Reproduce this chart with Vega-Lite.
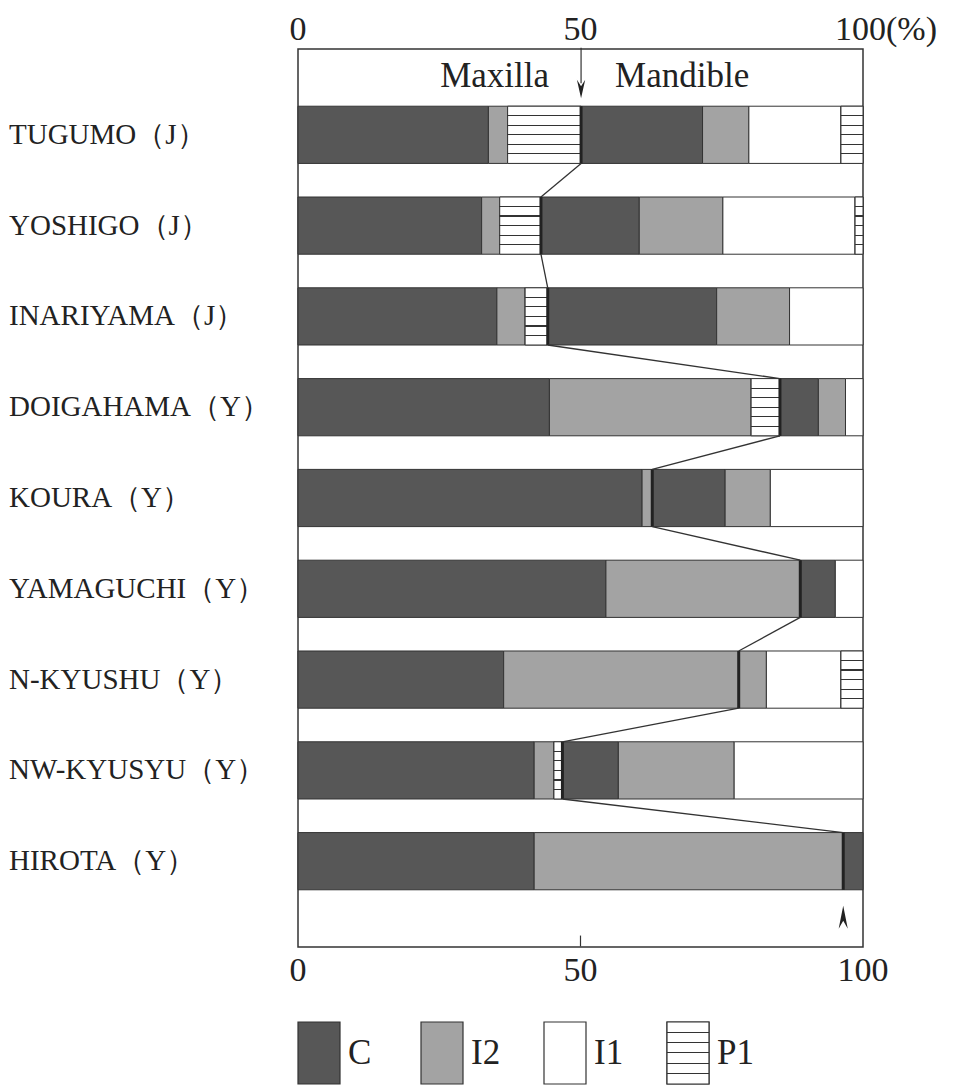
{
  "$schema": "https://vega.github.io/schema/vega-lite/v6.json",
  "padding": {"left": 8, "top": 12, "right": 5, "bottom": 0},
  "background": "white",
  "spacing": 32,
  "config": {
    "view": {"stroke": "#333", "strokeWidth": 1.5},
    "font": "Liberation Serif"
  },
  "vconcat": [
    {
      "width": 565,
      "height": 898,
      "data": {
        "values": [
          {"site": "TUGUMO（J）", "idx": 1, "jaw": "Maxilla", "tooth": "C", "seg": 1, "pct": 33.7},
          {"site": "TUGUMO（J）", "idx": 1, "jaw": "Maxilla", "tooth": "I2", "seg": 2, "pct": 3.4},
          {"site": "TUGUMO（J）", "idx": 1, "jaw": "Maxilla", "tooth": "P1", "seg": 4, "pct": 13.0},
          {"site": "TUGUMO（J）", "idx": 1, "jaw": "Mandible", "tooth": "C", "seg": 5, "pct": 21.5},
          {"site": "TUGUMO（J）", "idx": 1, "jaw": "Mandible", "tooth": "I2", "seg": 6, "pct": 8.2},
          {"site": "TUGUMO（J）", "idx": 1, "jaw": "Mandible", "tooth": "I1", "seg": 7, "pct": 16.3},
          {"site": "TUGUMO（J）", "idx": 1, "jaw": "Mandible", "tooth": "P1", "seg": 8, "pct": 3.9},
          {"site": "YOSHIGO（J）", "idx": 2, "jaw": "Maxilla", "tooth": "C", "seg": 1, "pct": 32.5},
          {"site": "YOSHIGO（J）", "idx": 2, "jaw": "Maxilla", "tooth": "I2", "seg": 2, "pct": 3.2},
          {"site": "YOSHIGO（J）", "idx": 2, "jaw": "Maxilla", "tooth": "P1", "seg": 4, "pct": 7.3},
          {"site": "YOSHIGO（J）", "idx": 2, "jaw": "Mandible", "tooth": "C", "seg": 5, "pct": 17.4},
          {"site": "YOSHIGO（J）", "idx": 2, "jaw": "Mandible", "tooth": "I2", "seg": 6, "pct": 14.8},
          {"site": "YOSHIGO（J）", "idx": 2, "jaw": "Mandible", "tooth": "I1", "seg": 7, "pct": 23.4},
          {"site": "YOSHIGO（J）", "idx": 2, "jaw": "Mandible", "tooth": "P1", "seg": 8, "pct": 1.4},
          {"site": "INARIYAMA（J）", "idx": 3, "jaw": "Maxilla", "tooth": "C", "seg": 1, "pct": 35.2},
          {"site": "INARIYAMA（J）", "idx": 3, "jaw": "Maxilla", "tooth": "I2", "seg": 2, "pct": 5.0},
          {"site": "INARIYAMA（J）", "idx": 3, "jaw": "Maxilla", "tooth": "P1", "seg": 4, "pct": 4.0},
          {"site": "INARIYAMA（J）", "idx": 3, "jaw": "Mandible", "tooth": "C", "seg": 5, "pct": 29.9},
          {"site": "INARIYAMA（J）", "idx": 3, "jaw": "Mandible", "tooth": "I2", "seg": 6, "pct": 12.9},
          {"site": "INARIYAMA（J）", "idx": 3, "jaw": "Mandible", "tooth": "I1", "seg": 7, "pct": 13.0},
          {"site": "DOIGAHAMA（Y）", "idx": 4, "jaw": "Maxilla", "tooth": "C", "seg": 1, "pct": 44.5},
          {"site": "DOIGAHAMA（Y）", "idx": 4, "jaw": "Maxilla", "tooth": "I2", "seg": 2, "pct": 35.7},
          {"site": "DOIGAHAMA（Y）", "idx": 4, "jaw": "Maxilla", "tooth": "P1", "seg": 4, "pct": 5.1},
          {"site": "DOIGAHAMA（Y）", "idx": 4, "jaw": "Mandible", "tooth": "C", "seg": 5, "pct": 6.8},
          {"site": "DOIGAHAMA（Y）", "idx": 4, "jaw": "Mandible", "tooth": "I2", "seg": 6, "pct": 4.8},
          {"site": "DOIGAHAMA（Y）", "idx": 4, "jaw": "Mandible", "tooth": "I1", "seg": 7, "pct": 3.1},
          {"site": "KOURA（Y）", "idx": 5, "jaw": "Maxilla", "tooth": "C", "seg": 1, "pct": 60.9},
          {"site": "KOURA（Y）", "idx": 5, "jaw": "Maxilla", "tooth": "I2", "seg": 2, "pct": 1.8},
          {"site": "KOURA（Y）", "idx": 5, "jaw": "Mandible", "tooth": "C", "seg": 5, "pct": 12.9},
          {"site": "KOURA（Y）", "idx": 5, "jaw": "Mandible", "tooth": "I2", "seg": 6, "pct": 8.0},
          {"site": "KOURA（Y）", "idx": 5, "jaw": "Mandible", "tooth": "I1", "seg": 7, "pct": 16.4},
          {"site": "YAMAGUCHI（Y）", "idx": 6, "jaw": "Maxilla", "tooth": "C", "seg": 1, "pct": 54.5},
          {"site": "YAMAGUCHI（Y）", "idx": 6, "jaw": "Maxilla", "tooth": "I2", "seg": 2, "pct": 34.4},
          {"site": "YAMAGUCHI（Y）", "idx": 6, "jaw": "Mandible", "tooth": "C", "seg": 5, "pct": 6.2},
          {"site": "YAMAGUCHI（Y）", "idx": 6, "jaw": "Mandible", "tooth": "I1", "seg": 7, "pct": 4.9},
          {"site": "N-KYUSHU（Y）", "idx": 7, "jaw": "Maxilla", "tooth": "C", "seg": 1, "pct": 36.4},
          {"site": "N-KYUSHU（Y）", "idx": 7, "jaw": "Maxilla", "tooth": "I2", "seg": 2, "pct": 41.6},
          {"site": "N-KYUSHU（Y）", "idx": 7, "jaw": "Mandible", "tooth": "I2", "seg": 6, "pct": 4.9},
          {"site": "N-KYUSHU（Y）", "idx": 7, "jaw": "Mandible", "tooth": "I1", "seg": 7, "pct": 13.2},
          {"site": "N-KYUSHU（Y）", "idx": 7, "jaw": "Mandible", "tooth": "P1", "seg": 8, "pct": 3.9},
          {"site": "NW-KYUSYU（Y）", "idx": 8, "jaw": "Maxilla", "tooth": "C", "seg": 1, "pct": 41.8},
          {"site": "NW-KYUSYU（Y）", "idx": 8, "jaw": "Maxilla", "tooth": "I2", "seg": 2, "pct": 3.5},
          {"site": "NW-KYUSYU（Y）", "idx": 8, "jaw": "Maxilla", "tooth": "P1", "seg": 4, "pct": 1.5},
          {"site": "NW-KYUSYU（Y）", "idx": 8, "jaw": "Mandible", "tooth": "C", "seg": 5, "pct": 9.9},
          {"site": "NW-KYUSYU（Y）", "idx": 8, "jaw": "Mandible", "tooth": "I2", "seg": 6, "pct": 20.5},
          {"site": "NW-KYUSYU（Y）", "idx": 8, "jaw": "Mandible", "tooth": "I1", "seg": 7, "pct": 22.8},
          {"site": "HIROTA（Y）", "idx": 9, "jaw": "Maxilla", "tooth": "C", "seg": 1, "pct": 41.8},
          {"site": "HIROTA（Y）", "idx": 9, "jaw": "Maxilla", "tooth": "I2", "seg": 2, "pct": 54.7},
          {"site": "HIROTA（Y）", "idx": 9, "jaw": "Mandible", "tooth": "C", "seg": 5, "pct": 3.5}
        ]
      },
      "transform": [
        {"stack": "pct", "groupby": ["site"], "sort": [{"field": "seg", "order": "ascending"}], "as": ["x0", "x1"]}
      ],
      "layer": [
        {
          "mark": {"type": "bar", "stroke": "#333", "strokeWidth": 1},
          "encoding": {
            "y": {
              "field": "site", "type": "nominal",
              "scale": {"domain": ["TUGUMO（J）", "YOSHIGO（J）", "INARIYAMA（J）", "DOIGAHAMA（Y）", "KOURA（Y）", "YAMAGUCHI（Y）", "N-KYUSHU（Y）", "NW-KYUSYU（Y）", "HIROTA（Y）"], "paddingInner": 0.37, "paddingOuter": 0.63},
              "axis": null
            },
            "x": {"field": "x0", "type": "quantitative", "scale": {"domain": [0, 100], "nice": false}, "axis": null},
            "x2": {"field": "x1"},
            "fill": {
              "field": "tooth", "type": "nominal",
              "scale": {"domain": ["C", "I2", "I1", "P1"], "range": ["#575757", "#a3a3a3", "#ffffff", "#ffffff"]},
              "legend": null
            }
          }
        },
        {
          "transform": [{"filter": "datum.tooth == 'P1'"}],
          "mark": {
            "type": "bar", "stroke": "#333", "strokeWidth": 1,
            "fill": {"gradient": "linear", "x1": 0, "y1": 0, "x2": 0, "y2": 1, "stops": [
              {"offset": 0, "color": "#ffffff"},
              {"offset": 0.157, "color": "#ffffff"}, {"offset": 0.157, "color": "#333333"}, {"offset": 0.177, "color": "#333333"}, {"offset": 0.177, "color": "#ffffff"},
              {"offset": 0.323, "color": "#ffffff"}, {"offset": 0.323, "color": "#333333"}, {"offset": 0.343, "color": "#333333"}, {"offset": 0.343, "color": "#ffffff"},
              {"offset": 0.49, "color": "#ffffff"}, {"offset": 0.49, "color": "#333333"}, {"offset": 0.51, "color": "#333333"}, {"offset": 0.51, "color": "#ffffff"},
              {"offset": 0.657, "color": "#ffffff"}, {"offset": 0.657, "color": "#333333"}, {"offset": 0.677, "color": "#333333"}, {"offset": 0.677, "color": "#ffffff"},
              {"offset": 0.823, "color": "#ffffff"}, {"offset": 0.823, "color": "#333333"}, {"offset": 0.843, "color": "#333333"}, {"offset": 0.843, "color": "#ffffff"},
              {"offset": 1, "color": "#ffffff"}
            ]}
          },
          "encoding": {
            "y": {"field": "site", "type": "nominal", "axis": null},
            "x": {"field": "x0", "type": "quantitative", "axis": null},
            "x2": {"field": "x1"}
          }
        },
        {
          "transform": [
            {"filter": "datum.jaw == 'Maxilla'"},
            {"aggregate": [{"op": "max", "field": "x1", "as": "b"}], "groupby": ["site", "idx"]},
            {"window": [{"op": "lead", "field": "b", "as": "bnext"}, {"op": "lead", "field": "site", "as": "next"}, {"op": "lag", "field": "b", "as": "bprev"}], "sort": [{"field": "idx", "order": "ascending"}]}
          ],
          "layer": [
            {
              "mark": {"type": "rule", "color": "#222", "strokeWidth": 3},
              "encoding": {
                "x": {"field": "b", "type": "quantitative", "axis": null},
                "y": {"field": "site", "type": "nominal", "bandPosition": 0, "axis": null},
                "y2": {"field": "site", "bandPosition": 1}
              }
            },
            {
              "transform": [{"filter": "datum.next != null"}],
              "mark": {"type": "rule", "color": "#333", "strokeWidth": 1.3},
              "encoding": {
                "x": {"field": "b", "type": "quantitative", "axis": null},
                "x2": {"field": "bnext"},
                "y": {"field": "site", "type": "nominal", "bandPosition": 1, "axis": null},
                "y2": {"field": "next", "bandPosition": 0}
              }
            },
            {
              "transform": [{"filter": "datum.bprev == null"}],
              "mark": {"type": "rule", "color": "#333", "strokeWidth": 1.2},
              "encoding": {
                "x": {"field": "b", "type": "quantitative", "axis": null},
                "y": {"field": "site", "type": "nominal", "bandPosition": -1.02, "axis": null},
                "y2": {"field": "site", "bandPosition": -0.4}
              }
            },
            {
              "transform": [{"filter": "datum.bprev == null"}],
              "mark": {"type": "point", "filled": true, "color": "#222", "opacity": 1, "size": 340, "shape": "M-0.45,-1L0,1L0.45,-1L0,-0.3Z"},
              "encoding": {
                "x": {"field": "b", "type": "quantitative", "axis": null},
                "y": {"field": "site", "type": "nominal", "bandPosition": -0.3, "axis": null}
              }
            },
            {
              "transform": [{"filter": "datum.bnext == null"}],
              "mark": {"type": "point", "filled": true, "color": "#222", "opacity": 1, "size": 520, "shape": "M-0.4,1L0,-1L0.4,1L0,0.3Z"},
              "encoding": {
                "x": {"field": "b", "type": "quantitative", "axis": null},
                "y": {"field": "site", "type": "nominal", "bandPosition": 1.48, "axis": null}
              }
            },
            {
              "transform": [{"filter": "datum.bnext == null"}],
              "mark": {"type": "rule", "color": "#333", "strokeWidth": 1.2},
              "encoding": {
                "x": {"datum": 50, "type": "quantitative", "axis": null},
                "y": {"field": "site", "type": "nominal", "bandPosition": 1.8, "axis": null},
                "y2": {"field": "site", "bandPosition": 1.99}
              }
            },
            {
              "transform": [{"filter": "datum.bprev == null"}],
              "mark": {"type": "text", "text": "Maxilla", "align": "right", "baseline": "middle", "dx": -32, "fontSize": 35, "font": "Liberation Serif", "color": "#222"},
              "encoding": {
                "x": {"field": "b", "type": "quantitative", "axis": null},
                "y": {"field": "site", "type": "nominal", "bandPosition": -0.53, "axis": null}
              }
            },
            {
              "transform": [{"filter": "datum.bprev == null"}],
              "mark": {"type": "text", "text": "Mandible", "align": "left", "baseline": "middle", "dx": 34, "fontSize": 35, "font": "Liberation Serif", "color": "#222"},
              "encoding": {
                "x": {"field": "b", "type": "quantitative", "axis": null},
                "y": {"field": "site", "type": "nominal", "bandPosition": -0.53, "axis": null}
              }
            },
            {
              "mark": {"type": "text", "align": "left", "baseline": "middle", "dx": -289, "fontSize": 29, "font": "Liberation Serif", "color": "#222"},
              "encoding": {
                "x": {"datum": 0, "type": "quantitative", "axis": null},
                "y": {"field": "site", "type": "nominal", "axis": null},
                "text": {"field": "site", "type": "nominal"}
              }
            },
            {
              "transform": [{"filter": "datum.bprev == null"}],
              "mark": {"type": "text", "text": "0", "align": "center", "baseline": "middle", "fontSize": 34, "font": "Liberation Serif", "color": "#222"},
              "encoding": {
                "x": {"datum": 0, "type": "quantitative", "axis": null},
                "y": {"field": "site", "type": "nominal", "bandPosition": -1.33, "axis": null}
              }
            },
            {
              "transform": [{"filter": "datum.bprev == null"}],
              "mark": {"type": "text", "text": "50", "align": "center", "baseline": "middle", "fontSize": 34, "font": "Liberation Serif", "color": "#222"},
              "encoding": {
                "x": {"datum": 50, "type": "quantitative", "axis": null},
                "y": {"field": "site", "type": "nominal", "bandPosition": -1.33, "axis": null}
              }
            },
            {
              "transform": [{"filter": "datum.bprev == null"}],
              "mark": {"type": "text", "text": "100(%)", "align": "left", "baseline": "middle", "dx": -28, "fontSize": 34, "font": "Liberation Serif", "color": "#222"},
              "encoding": {
                "x": {"datum": 100, "type": "quantitative", "axis": null},
                "y": {"field": "site", "type": "nominal", "bandPosition": -1.33, "axis": null}
              }
            },
            {
              "transform": [{"filter": "datum.bnext == null"}],
              "mark": {"type": "text", "text": "0", "align": "center", "baseline": "middle", "fontSize": 34, "font": "Liberation Serif", "color": "#222"},
              "encoding": {
                "x": {"datum": 0, "type": "quantitative", "axis": null},
                "y": {"field": "site", "type": "nominal", "bandPosition": 2.42, "axis": null}
              }
            },
            {
              "transform": [{"filter": "datum.bnext == null"}],
              "mark": {"type": "text", "text": "50", "align": "center", "baseline": "middle", "fontSize": 34, "font": "Liberation Serif", "color": "#222"},
              "encoding": {
                "x": {"datum": 50, "type": "quantitative", "axis": null},
                "y": {"field": "site", "type": "nominal", "bandPosition": 2.42, "axis": null}
              }
            },
            {
              "transform": [{"filter": "datum.bnext == null"}],
              "mark": {"type": "text", "text": "100", "align": "center", "baseline": "middle", "fontSize": 34, "font": "Liberation Serif", "color": "#222"},
              "encoding": {
                "x": {"datum": 100, "type": "quantitative", "axis": null},
                "y": {"field": "site", "type": "nominal", "bandPosition": 2.42, "axis": null}
              }
            }
          ]
        }
      ]
    },
    {
      "width": 411,
      "height": 62,
      "view": {"stroke": null},
      "data": {"values": [{"tooth": "C"}, {"tooth": "I2"}, {"tooth": "I1"}, {"tooth": "P1"}]},
      "layer": [
        {
          "mark": {"type": "bar", "stroke": "#333", "strokeWidth": 1.2},
          "encoding": {
            "x": {"field": "tooth", "type": "nominal", "scale": {"domain": ["C", "I2", "I1", "P1"], "paddingInner": 0.6585, "paddingOuter": 0, "align": 0}, "axis": null},
            "fill": {"field": "tooth", "type": "nominal", "scale": {"domain": ["C", "I2", "I1", "P1"], "range": ["#575757", "#a3a3a3", "#ffffff", "#ffffff"]}, "legend": null}
          }
        },
        {
          "transform": [{"filter": "datum.tooth == 'P1'"}],
          "mark": {
            "type": "bar", "stroke": "#333", "strokeWidth": 1.2,
            "fill": {"gradient": "linear", "x1": 0, "y1": 0, "x2": 0, "y2": 1, "stops": [
              {"offset": 0, "color": "#ffffff"},
              {"offset": 0.157, "color": "#ffffff"}, {"offset": 0.157, "color": "#333333"}, {"offset": 0.175, "color": "#333333"}, {"offset": 0.175, "color": "#ffffff"},
              {"offset": 0.323, "color": "#ffffff"}, {"offset": 0.323, "color": "#333333"}, {"offset": 0.341, "color": "#333333"}, {"offset": 0.341, "color": "#ffffff"},
              {"offset": 0.49, "color": "#ffffff"}, {"offset": 0.49, "color": "#333333"}, {"offset": 0.508, "color": "#333333"}, {"offset": 0.508, "color": "#ffffff"},
              {"offset": 0.657, "color": "#ffffff"}, {"offset": 0.657, "color": "#333333"}, {"offset": 0.675, "color": "#333333"}, {"offset": 0.675, "color": "#ffffff"},
              {"offset": 0.823, "color": "#ffffff"}, {"offset": 0.823, "color": "#333333"}, {"offset": 0.841, "color": "#333333"}, {"offset": 0.841, "color": "#ffffff"},
              {"offset": 1, "color": "#ffffff"}
            ]}
          },
          "encoding": {
            "x": {"field": "tooth", "type": "nominal", "axis": null}
          }
        },
        {
          "mark": {"type": "text", "align": "left", "baseline": "middle", "dx": 8, "fontSize": 35, "font": "Liberation Serif", "color": "#222"},
          "encoding": {
            "x": {"field": "tooth", "type": "nominal", "bandPosition": 1, "axis": null},
            "text": {"field": "tooth", "type": "nominal"}
          }
        }
      ]
    }
  ]
}
